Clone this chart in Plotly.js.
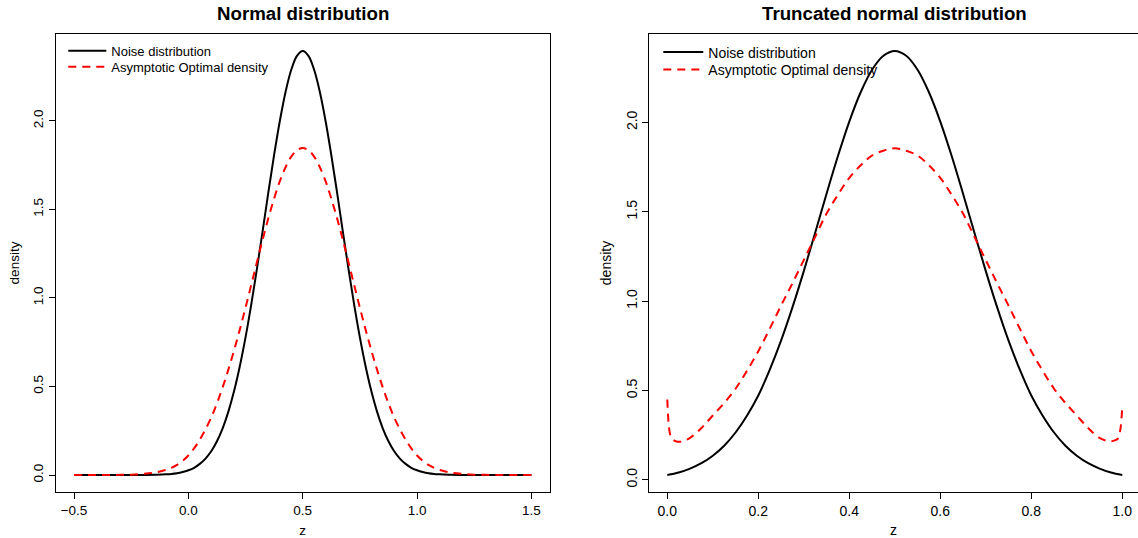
<!DOCTYPE html>
<html>
<head>
<meta charset="utf-8">
<script src="https://cdn.plot.ly/plotly-3.0.1.min.js"></script>
<style>html,body{margin:0;padding:0;background:#fff;}#chart{width:1138px;height:538px;}</style>
</head>
<body>
<div id="chart"></div>
<script>
// ---------- data ----------
const titleLeft = "Normal distribution";
const titleRight = "Truncated normal distribution";
const seriesNames = ["Noise distribution", "Asymptotic Optimal density"];

// Left panel: normal distribution
const zLeft = [-0.5,-0.45,-0.4,-0.35,-0.3,-0.25,-0.2,-0.15,
  -0.1,-0.075,-0.05,-0.025,0,0.025,0.05,0.075,0.1,0.125,0.15,0.175,0.2,0.225,0.25,0.275,0.3,0.325,0.35,0.375,0.4,0.425,0.45,0.475,0.5,
  0.525,0.55,0.575,0.6,0.625,0.65,0.675,0.7,0.725,0.75,0.775,0.8,0.825,0.85,0.875,0.9,0.925,0.95,0.975,1.0,1.025,1.05,1.075,1.1,
  1.15,1.2,1.25,1.3,1.35,1.4,1.45,1.5];
const noiseLeft = [0,0,0,0,0,0,0,0.001,
  0.004,0.006,0.010,0.017,0.027,0.041,0.063,0.093,0.134,0.191,0.264,0.358,0.474,0.614,0.777,0.962,1.165,1.379,1.597,1.807,1.999,2.163,2.288,2.367,2.394,
  2.367,2.288,2.163,1.999,1.807,1.597,1.379,1.165,0.962,0.777,0.614,0.474,0.358,0.264,0.191,0.134,0.093,0.063,0.041,0.027,0.017,0.010,0.006,0.004,
  0.001,0,0,0,0,0,0,0];
const optLeft = [0,0,0,0,0.001,0.002,0.006,0.013,
  0.028,0.040,0.057,0.080,0.110,0.150,0.200,0.258,0.325,0.405,0.495,0.595,0.704,0.821,0.945,1.073,1.203,1.330,1.451,1.561,1.659,1.738,1.798,1.834,1.846,
  1.834,1.798,1.738,1.659,1.561,1.451,1.330,1.203,1.073,0.945,0.821,0.704,0.595,0.495,0.405,0.325,0.258,0.200,0.150,0.110,0.080,0.057,0.040,0.028,
  0.013,0.006,0.002,0.001,0,0,0,0];

// Right panel: truncated normal distribution on [0, 1]
const zRight = [0,0.025,0.05,0.075,0.1,0.125,0.15,0.175,0.2,0.225,0.25,0.275,0.3,0.325,0.35,0.375,0.4,0.425,0.45,0.475,0.5,
  0.525,0.55,0.575,0.6,0.625,0.65,0.675,0.7,0.725,0.75,0.775,0.8,0.825,0.85,0.875,0.9,0.925,0.95,0.975,1.0];
const noiseRight = [0.027,0.041,0.063,0.093,0.135,0.191,0.265,0.359,0.472,0.615,0.779,0.965,1.168,1.383,1.601,1.812,2.005,2.169,2.295,2.373,2.400,
  2.373,2.295,2.169,2.005,1.812,1.601,1.383,1.168,0.965,0.779,0.615,0.472,0.359,0.265,0.191,0.135,0.093,0.063,0.041,0.027];
const zOptRight = [0,0.005,0.01,0.02,0.03,0.05,0.075,0.1,0.125,0.15,0.175,0.2,0.225,0.25,0.275,0.3,0.325,0.35,0.375,0.4,0.425,0.45,0.475,0.5,
  0.525,0.55,0.575,0.6,0.625,0.65,0.675,0.7,0.725,0.75,0.775,0.8,0.825,0.85,0.875,0.9,0.925,0.95,0.97,0.98,0.99,0.995,1.0];
const optRight = [0.45,0.27,0.23,0.215,0.214,0.235,0.29,0.36,0.43,0.51,0.61,0.72,0.845,0.975,1.10,1.23,1.36,1.49,1.595,1.69,1.76,1.815,1.842,1.855,
  1.842,1.815,1.76,1.69,1.595,1.49,1.36,1.23,1.10,0.975,0.845,0.72,0.61,0.51,0.43,0.36,0.29,0.235,0.216,0.218,0.23,0.27,0.41];

const xTicksLeft = [-0.5,0,0.5,1,1.5];
const xTickTextLeft = ["\u22120.5","0.0","0.5","1.0","1.5"];
const xTicksRight = [0,0.2,0.4,0.6,0.8,1.0];
const xTickTextRight = ["0.0","0.2","0.4","0.6","0.8","1.0"];
const yTicks = [0,0.5,1,1.5,2];
const yTickText = ["0.0","0.5","1.0","1.5","2.0"];

// ---------- layout helpers ----------
const W = 1138, H = 538;
const FONT = "Liberation Sans, Arial, Helvetica, sans-serif";
const px = v => v / W;
const py = v => (H - v) / H;

const blackLine = {color: "#000000", width: 2, shape: "spline", smoothing: 1};
const redLine = {color: "#ff0000", width: 2, dash: "8px,6px", shape: "spline", smoothing: 1};

const traces = [
  {x: zLeft, y: noiseLeft, type: "scatter", mode: "lines", name: seriesNames[0], line: blackLine,
   xaxis: "x", yaxis: "y", legend: "legend"},
  {x: zLeft, y: optLeft, type: "scatter", mode: "lines", name: seriesNames[1], line: redLine,
   xaxis: "x", yaxis: "y", legend: "legend2"},
  {x: zRight, y: noiseRight, type: "scatter", mode: "lines", name: seriesNames[0], line: blackLine,
   xaxis: "x2", yaxis: "y2", legend: "legend3"},
  {x: zOptRight, y: optRight, type: "scatter", mode: "lines", name: seriesNames[1], line: redLine,
   xaxis: "x2", yaxis: "y2", legend: "legend4"}
];

function xAxis(domain, range, tv, tt, anchor, fs) {
  return {domain: domain, range: range, anchor: anchor, tickvals: tv, ticktext: tt,
    ticks: "outside", ticklen: 6, tickwidth: 1, tickcolor: "#000",
    showline: true, linecolor: "#000", linewidth: 1, mirror: true,
    showgrid: false, zeroline: false, fixedrange: true,
    tickfont: {family: FONT, size: fs, color: "#000"},
    title: {text: "z", font: {family: FONT, size: fs, color: "#000"}, standoff: 8}};
}
function yAxis(domain, range, anchor, mirror, fs) {
  return {domain: domain, range: range, anchor: anchor, tickvals: yTicks, ticktext: yTickText,
    tickangle: -90, ticks: "outside", ticklen: 6, tickwidth: 1, tickcolor: "#000",
    showline: true, linecolor: "#000", linewidth: 1, mirror: mirror,
    showgrid: false, zeroline: false, fixedrange: true,
    tickfont: {family: FONT, size: fs, color: "#000"},
    title: {text: "density", font: {family: FONT, size: fs, color: "#000"}, standoff: 8}};
}
function legendAt(x, top, fs, iw) {
  return {x: px(x), y: py(top), xanchor: "left", yanchor: "top", bgcolor: "rgba(0,0,0,0)",
          borderwidth: 0, itemwidth: iw, font: {family: FONT, size: fs, color: "#000"}};
}

const yDom = [py(492), py(34)];
const layout = {
  width: W, height: H,
  margin: {l: 0, r: 0, t: 0, b: 0},
  paper_bgcolor: "#ffffff", plot_bgcolor: "#ffffff",
  font: {family: FONT, size: 13, color: "#000"},
  showlegend: true,
  xaxis: xAxis([px(55.7), px(549.7)], [-0.58, 1.58], xTicksLeft, xTickTextLeft, "y", 13.5),
  yaxis: yAxis(yDom, [-0.0958, 2.49], "x", true, 13.5),
  xaxis2: xAxis([px(649.1), 1], [-0.04, 1.0345], xTicksRight, xTickTextRight, "y2", 14),
  yaxis2: yAxis(yDom, [-0.068, 2.495], "x2", false, 14),
  legend: legendAt(63.3, 35.7, 13, 38),
  legend2: legendAt(63.3, 51.7, 13, 38),
  legend3: legendAt(658.3, 36.5, 14, 40),
  legend4: legendAt(658.3, 54, 14, 40),
  annotations: [
    {text: titleLeft, xref: "paper", yref: "paper", x: px(302.7), y: py(13), xanchor: "center", yanchor: "middle",
     showarrow: false, font: {family: FONT, size: 18.7, color: "#000", weight: "bold"}},
    {text: titleRight, xref: "paper", yref: "paper", x: px(894.8), y: py(13), xanchor: "center", yanchor: "middle",
     showarrow: false, font: {family: FONT, size: 18.7, color: "#000", weight: "bold"}}
  ]
};

Plotly.newPlot("chart", traces, layout, {displayModeBar: false, staticPlot: true});
</script>
</body>
</html>
